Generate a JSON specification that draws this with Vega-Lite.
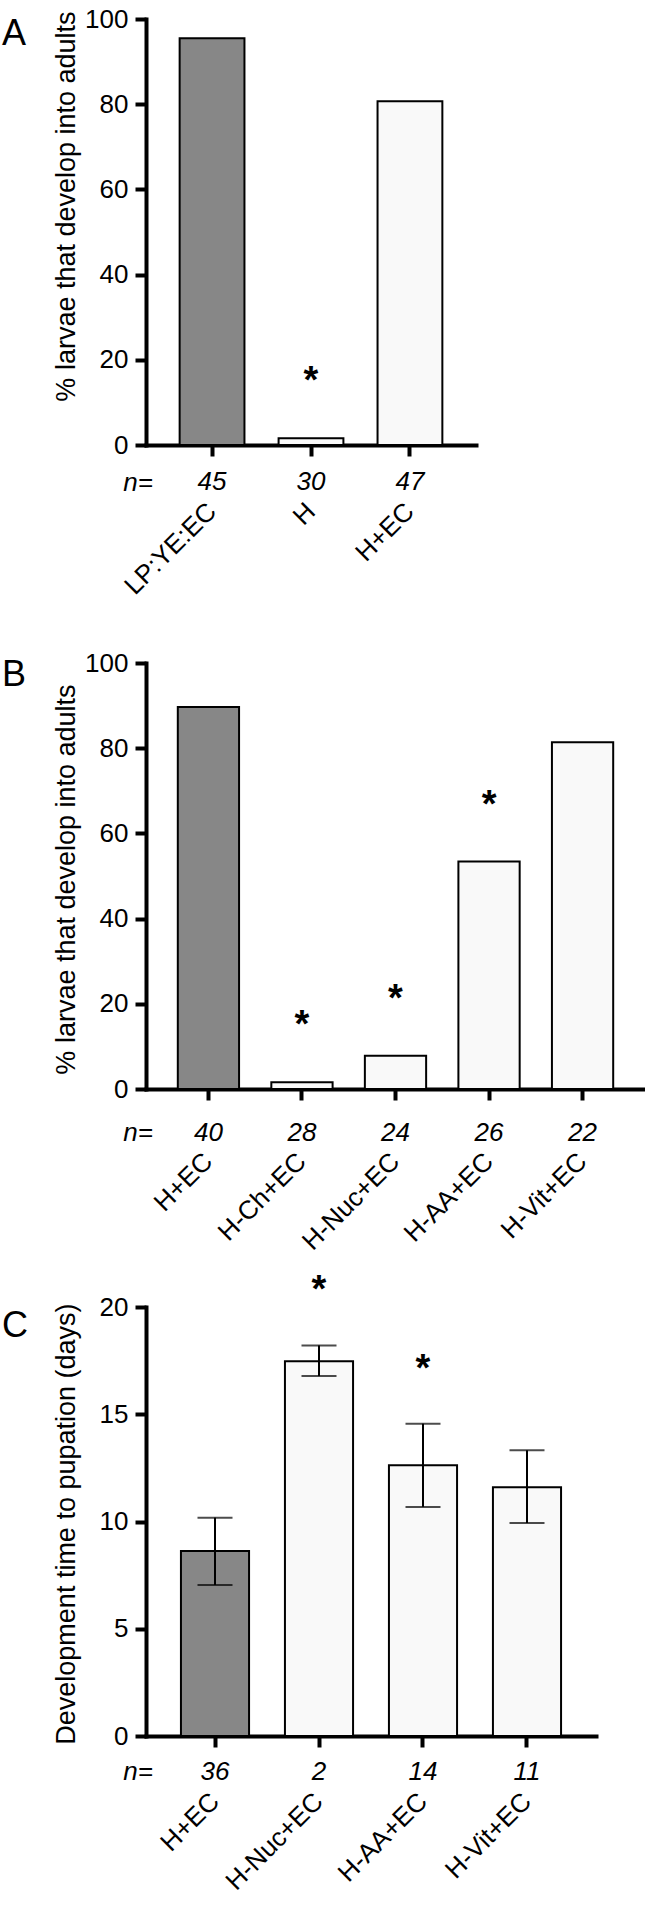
{
  "$schema": "https://vega.github.io/schema/vega-lite/v6.json",
  "background": "white",
  "padding": {"left": 2, "top": 6, "right": 0, "bottom": 0},
  "datasets": {
    "a": [
      {"group": "LP:YE:EC", "pct": 95.5, "n": "45", "sig": "", "role": "control"},
      {"group": "H", "pct": 1.6, "n": "30", "sig": "*", "role": "treatment"},
      {"group": "H+EC", "pct": 80.7, "n": "47", "sig": "", "role": "treatment"}
    ],
    "b": [
      {"group": "H+EC", "pct": 89.7, "n": "40", "sig": "", "role": "control"},
      {"group": "H-Ch+EC", "pct": 1.6, "n": "28", "sig": "*", "role": "treatment"},
      {"group": "H-Nuc+EC", "pct": 7.8, "n": "24", "sig": "*", "role": "treatment"},
      {"group": "H-AA+EC", "pct": 53.4, "n": "26", "sig": "*", "role": "treatment"},
      {"group": "H-Vit+EC", "pct": 81.4, "n": "22", "sig": "", "role": "treatment"}
    ],
    "c": [
      {"group": "H+EC", "mean": 8.62, "lo": 7.04, "hi": 10.18, "n": "36", "sig": "", "role": "control"},
      {"group": "H-Nuc+EC", "mean": 17.47, "lo": 16.78, "hi": 18.21, "n": "2", "sig": "*", "role": "treatment"},
      {"group": "H-AA+EC", "mean": 12.62, "lo": 10.68, "hi": 14.56, "n": "14", "sig": "*", "role": "treatment"},
      {"group": "H-Vit+EC", "mean": 11.6, "lo": 9.93, "hi": 13.32, "n": "11", "sig": "", "role": "treatment"}
    ]
  },
  "vconcat": [
    {
      "title": {"text": "A", "dy": 50.5},
      "width": 330,
      "height": 426,
      "data": {"name": "a"},
      "encoding": {
        "x": {
          "field": "group", "type": "nominal", "sort": null,
          "scale": {"domain": ["LP:YE:EC", "H", "H+EC"], "paddingInner": 0.345, "paddingOuter": 0.34},
          "axis": {"title": "n=", "titleY": 37, "labelPadding": 51}
        }
      },
      "layer": [
        {
          "mark": {"type": "bar", "stroke": "black", "strokeWidth": 2},
          "encoding": {
            "y": {
              "field": "pct", "type": "quantitative",
              "scale": {"domain": [0, 100], "nice": false},
              "axis": {"values": [0, 20, 40, 60, 80, 100], "title": "% larvae that develop into adults", "titleY": 187}
            },
            "color": {"field": "role", "type": "nominal", "scale": {"domain": ["control", "treatment"], "range": ["#878787", "#f9f9f9"]}, "legend": null}
          }
        },
        {
          "mark": {"type": "text", "fontSize": 26, "fontStyle": "italic", "baseline": "middle", "align": "center", "dy": 37, "color": "black"},
          "encoding": {"y": {"datum": 0, "type": "quantitative"}, "text": {"field": "n"}}
        },
        {
          "transform": [{"filter": "datum.sig == '*'"}],
          "mark": {"type": "text", "fontSize": 38, "fontWeight": "bold", "baseline": "alphabetic", "align": "center", "dy": -45, "color": "black"},
          "encoding": {"y": {"field": "pct", "type": "quantitative"}, "text": {"field": "sig"}}
        }
      ]
    },
    {
      "title": {"text": "B", "dy": 48.2},
      "width": 499,
      "height": 426,
      "data": {"name": "b"},
      "encoding": {
        "x": {
          "field": "group", "type": "nominal", "sort": null,
          "scale": {"domain": ["H+EC", "H-Ch+EC", "H-Nuc+EC", "H-AA+EC", "H-Vit+EC"], "paddingInner": 0.345, "paddingOuter": 0.34},
          "axis": {"title": "n=", "titleY": 43.5, "labelPadding": 57}
        }
      },
      "layer": [
        {
          "mark": {"type": "bar", "stroke": "black", "strokeWidth": 2},
          "encoding": {
            "y": {
              "field": "pct", "type": "quantitative",
              "scale": {"domain": [0, 100], "nice": false},
              "axis": {"values": [0, 20, 40, 60, 80, 100], "title": "% larvae that develop into adults", "titleY": 216}
            },
            "color": {"field": "role", "type": "nominal", "scale": {"domain": ["control", "treatment"], "range": ["#878787", "#f9f9f9"]}, "legend": null}
          }
        },
        {
          "mark": {"type": "text", "fontSize": 26, "fontStyle": "italic", "baseline": "middle", "align": "center", "dy": 43.5, "color": "black"},
          "encoding": {"y": {"datum": 0, "type": "quantitative"}, "text": {"field": "n"}}
        },
        {
          "transform": [{"filter": "datum.sig == '*'"}],
          "mark": {"type": "text", "fontSize": 38, "fontWeight": "bold", "baseline": "alphabetic", "align": "center", "dy": -45, "color": "black"},
          "encoding": {"y": {"field": "pct", "type": "quantitative"}, "text": {"field": "sig"}}
        }
      ]
    },
    {
      "title": {"text": "C", "dy": 76.6},
      "width": 450,
      "height": 429,
      "data": {"name": "c"},
      "encoding": {
        "x": {
          "field": "group", "type": "nominal", "sort": null,
          "scale": {"domain": ["H+EC", "H-Nuc+EC", "H-AA+EC", "H-Vit+EC"], "paddingInner": 0.345, "paddingOuter": 0.336},
          "axis": {"title": "n=", "titleY": 35.5, "labelPadding": 50}
        }
      },
      "layer": [
        {
          "mark": {"type": "bar", "stroke": "black", "strokeWidth": 2},
          "encoding": {
            "y": {
              "field": "mean", "type": "quantitative",
              "scale": {"domain": [0, 20], "nice": false},
              "axis": {"values": [0, 5, 10, 15, 20], "title": "Development time to pupation (days)", "titleY": 216.6}
            },
            "color": {"field": "role", "type": "nominal", "scale": {"domain": ["control", "treatment"], "range": ["#878787", "#f9f9f9"]}, "legend": null}
          }
        },
        {
          "mark": {"type": "rule", "strokeWidth": 2, "color": "black"},
          "encoding": {"y": {"field": "lo", "type": "quantitative"}, "y2": {"field": "hi"}}
        },
        {
          "mark": {"type": "tick", "size": 35, "thickness": 2, "color": "black", "orient": "horizontal"},
          "encoding": {"y": {"field": "lo", "type": "quantitative"}}
        },
        {
          "mark": {"type": "tick", "size": 35, "thickness": 2, "color": "black", "orient": "horizontal"},
          "encoding": {"y": {"field": "hi", "type": "quantitative"}}
        },
        {
          "mark": {"type": "text", "fontSize": 26, "fontStyle": "italic", "baseline": "middle", "align": "center", "dy": 35.5, "color": "black"},
          "encoding": {"y": {"datum": 0, "type": "quantitative"}, "text": {"field": "n"}}
        },
        {
          "transform": [{"filter": "datum.sig == '*'"}],
          "mark": {"type": "text", "fontSize": 38, "fontWeight": "bold", "baseline": "alphabetic", "align": "center", "dy": -43, "color": "black"},
          "encoding": {"y": {"field": "hi", "type": "quantitative"}, "text": {"field": "sig"}}
        }
      ]
    }
  ],
  "spacing": 218,
  "bounds": "flush",
  "config": {
    "font": "Liberation Sans",
    "view": {"stroke": null},
    "title": {"anchor": "start", "frame": "group", "fontSize": 36, "fontWeight": "normal", "font": "Liberation Sans", "color": "black", "dx": -144, "offset": 0, "baseline": "alphabetic"},
    "text": {"font": "Liberation Sans"},
    "axis": {
      "grid": false,
      "domainColor": "black", "domainWidth": 4, "domainCap": "square",
      "tickColor": "black", "tickWidth": 4, "tickSize": 11,
      "labelFont": "Liberation Sans", "labelFontSize": 26, "labelColor": "black", "labelFontWeight": "normal",
      "labelFlush": false, "labelOverlap": false, "labelBound": false, "labelLimit": 400,
      "titleFont": "Liberation Sans", "titleColor": "black", "titleFontWeight": "normal"
    },
    "axisX": {
      "labelAngle": -45, "labelAlign": "right", "labelBaseline": "middle",
      "titleFontSize": 26, "titleFontStyle": "italic", "titleAngle": 0, "titleAlign": "center", "titleBaseline": "middle", "titleX": -8.5
    },
    "axisY": {
      "labelPadding": 7, "titleFontSize": 27, "titleAngle": -90, "titleAlign": "center", "titleBaseline": "middle", "titleX": -80
    }
  }
}
